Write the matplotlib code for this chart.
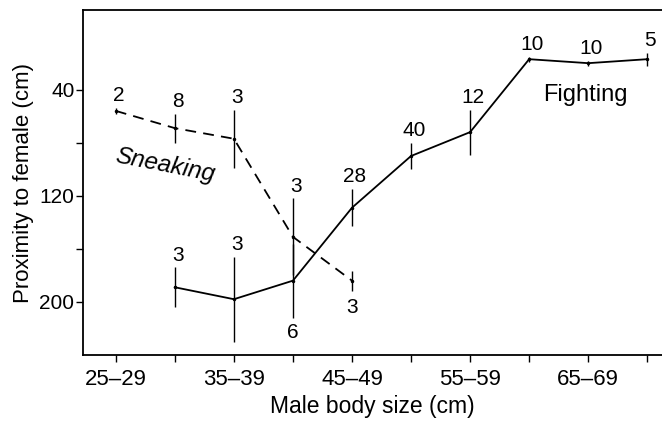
import matplotlib
matplotlib.use("Agg")
import matplotlib.pyplot as plt

plt.rcParams['font.family'] = ['Liberation Sans', 'DejaVu Sans']

# size classes on the x axis
size_classes = ['25–29', '30–34', '35–39', '40–44', '45–49',
                '50–54', '55–59', '60–64', '65–69', '70–74']

# sneaking males (dashed), classes 0..4
sneak_x = [0, 1, 2, 3, 4]
sneak_mean = [56, 69, 77, 151, 184]
sneak_err = [2, 11, 22, 29, 7.5]
sneak_n = ['2', '8', '3', '3', '3']

# fighting males (solid), classes 1..9
fight_x = [1, 2, 3, 4, 5, 6, 7, 8, 9]
fight_mean = [189, 198, 184, 129, 90, 72, 17, 20, 17]
fight_err = [15, 32, 28, 14, 10, 17, 2, 2, 5]
fight_n = ['3', '3', '6', '28', '40', '12', '10', '10', '5']

y_ticks = [40, 80, 120, 160, 200]
y_ticklabels = ['40', '', '120', '', '200']

fig = plt.figure(figsize=(6.62, 4.22), dpi=100)
ax = fig.add_axes([0.125, 0.159, 0.875, 0.817])

ax.errorbar(sneak_x, sneak_mean, yerr=sneak_err, color='black', linestyle=(0, (6, 4)),
            linewidth=1.3, elinewidth=1.0, capsize=0, marker='.', markersize=3)
ax.errorbar(fight_x, fight_mean, yerr=fight_err, color='black', linestyle='-',
            linewidth=1.3, elinewidth=1.0, capsize=0, marker='.', markersize=3)

fs = 15
# sample sizes: above the bars, except two below
for x, m, e, n in zip(sneak_x, sneak_mean, sneak_err, sneak_n):
    if x == 4:
        ax.annotate(n, (x, m + e), xytext=(0, -5), textcoords='offset points',
                    ha='center', va='top', fontsize=fs)
    else:
        ax.annotate(n, (x, m - e), xytext=(2, 2), textcoords='offset points',
                    ha='center', va='bottom', fontsize=fs)
for x, m, e, n in zip(fight_x, fight_mean, fight_err, fight_n):
    if x == 3:
        ax.annotate(n, (x, m + e), xytext=(0, -4), textcoords='offset points',
                    ha='center', va='top', fontsize=fs)
    else:
        ax.annotate(n, (x, m - e), xytext=(2, 2), textcoords='offset points',
                    ha='center', va='bottom', fontsize=fs)

ax.text(0.83, 97, 'Sneaking', fontsize=17.5, style='italic', rotation=-11,
        ha='center', va='center')
ax.text(7.95, 44, 'Fighting', fontsize=17, ha='center', va='center')

ax.set_xlim(-0.56, 9.25)
ax.set_ylim(240, -20)
ax.set_xticks(range(len(size_classes)))
ax.set_xticklabels([s if i % 2 == 0 else '' for i, s in enumerate(size_classes)])
ax.set_yticks(y_ticks)
ax.set_yticklabels(y_ticklabels)
ax.tick_params(direction='out', length=5, width=1.0, labelsize=fs)
ax.tick_params(axis='x', pad=5, labelsize=16)
ax.tick_params(axis='y', pad=1)
ax.spines['right'].set_visible(False)
for s in ['left', 'top', 'bottom']:
    ax.spines[s].set_linewidth(1.3)

ax.set_xlabel('Male body size (cm)', fontsize=16.5, labelpad=4)
ax.set_ylabel('Proximity to female (cm)', fontsize=16, labelpad=4)

fig.savefig('out.png', dpi=100)
